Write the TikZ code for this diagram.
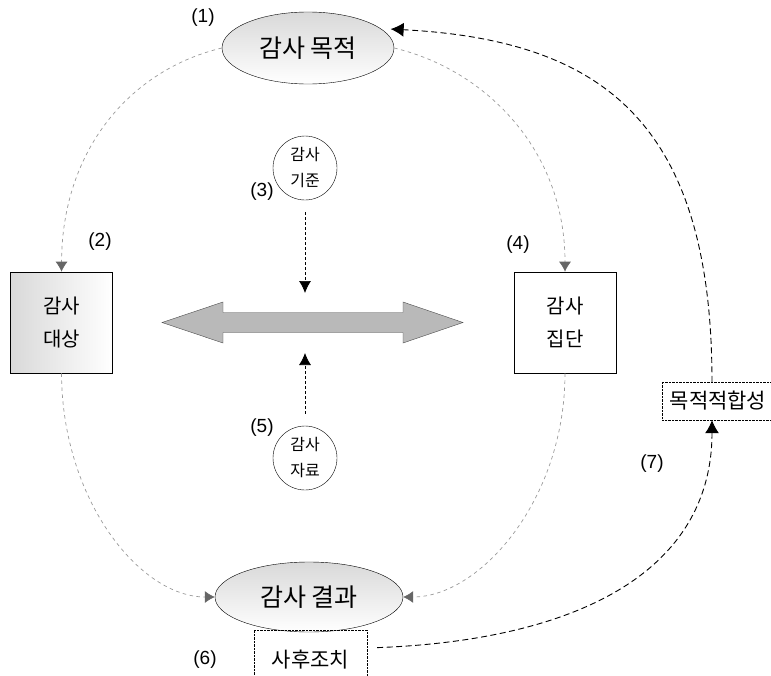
\documentclass[tikz,border=0pt]{standalone}
\usepackage{fontspec}
\setmainfont{Liberation Sans}
\newfontfamily\kr{Noto Sans CJK KR}
\usetikzlibrary{shapes.geometric,arrows.meta}

\begin{document}
\begin{tikzpicture}[x=1pt,y=-1pt,
    numlabel/.style={font=\fontsize{19}{19}\selectfont},
    kell/.style={draw, ellipse, thin, inner sep=0pt, minimum width=172pt, minimum height=72pt,
        top color=gray!30, bottom color=white, font=\kr\fontsize{25}{25}\selectfont},
    kbox/.style={draw, semithick, inner sep=0pt, minimum width=102pt, minimum height=101pt,
        align=center, font=\kr\fontsize{20}{33}\selectfont},
    kcirc/.style={draw, circle, thin, inner sep=0pt, minimum size=64pt, align=center,
        font=\kr\fontsize{16}{26}\selectfont},
    kdot/.style={draw, densely dotted, inner sep=0pt, font=\kr\fontsize{21}{21}\selectfont},
    grayflow/.style={gray!80, line width=0.7pt, dash pattern=on 3.5pt off 3.5pt,
        -{Latex[length=10pt,width=12pt,color=black!60]}},
    blackflow/.style={line width=0.9pt, dash pattern=on 6pt off 3.5pt,
        -{Latex[length=13pt,width=14pt]}},
    shortflow/.style={line width=0.7pt, dash pattern=on 3pt off 2pt,
        -{Latex[length=12pt,width=12pt]}}]
    \clip (0,0) rectangle (771,675);

    % top and bottom
    \node[kell] (goal) at (308,48) {감사 목적};
    \node[numlabel] (n1) at (203,18) {(1)};
    \node[kell, minimum width=188pt, minimum height=70pt] (result) at (309,597) {감사 결과};
    \node[kdot, minimum width=113pt, minimum height=60pt] (follow) at (310.5,660) {사후조치};
    \node[numlabel] (n6) at (205,660) {(6)};

    % left and right boxes
    \node[kbox, left color=gray!30, right color=white] (target) at (61.5,322.5) {감사\\대상};
    \node[numlabel] (n2) at (100,242) {(2)};
    \node[kbox] (group) at (565,322.5) {감사\\집단};
    \node[numlabel] (n4) at (518,245) {(4)};

    % centre
    \filldraw[fill=gray!55, draw=black!70, thin] (162,322.5) -- (223,302) -- (223,312.5)
        -- (403,312.5) -- (403,302) -- (463,322.5) -- (403,343) -- (403,332.5)
        -- (223,332.5) -- (223,343) -- cycle;
    \coordinate (axtop) at (305,293);
    \coordinate (axbot) at (305,353);
    \node[kcirc] (norm) at (305,168) {감사\\기준};
    \node[numlabel] (n3) at (262,192) {(3)};
    \node[kcirc] (data) at (305,458) {감사\\자료};
    \node[numlabel] (n5) at (262,428) {(5)};
    \draw[shortflow, shorten <=12pt] (norm.south) -- (axtop);
    \draw[shortflow, shorten <=12pt] (data.north) -- (axbot);

    % right side
    \node[kdot, minimum width=112pt, minimum height=38pt] (fit) at (718,401) {목적적합성};
    \node[numlabel] (n7) at (652,464) {(7)};

    % flows
    \draw[grayflow] (goal.west) .. controls (130,70) and (62,150) .. (target.north);
    \draw[grayflow] (goal.east) .. controls (486,70) and (565,150) .. (group.north);
    \draw[grayflow] (target.south) .. controls (62,500) and (140,597) .. (result.west);
    \draw[grayflow] (group.south) .. controls (565,500) and (480,597) .. (result.east);
    \draw[blackflow, shorten <=10pt] ([yshift=12pt]follow.east) .. controls (580,640) and (712,570) .. ([xshift=-6pt]fit.south);
    \draw[blackflow, shorten >=10pt] ([xshift=-6pt]fit.north) .. controls (712,120) and (600,40) .. (goal.15);
\end{tikzpicture}
\end{document}
